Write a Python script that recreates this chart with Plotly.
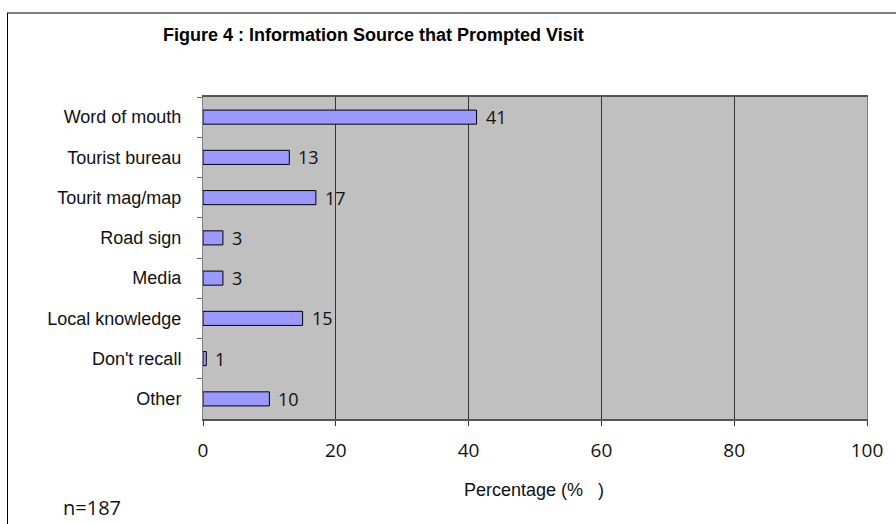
import plotly.graph_objects as go

categories = ["Word of mouth", "Tourist bureau", "Tourit mag/map", "Road sign",
              "Media", "Local knowledge", "Don't recall", "Other"]
values = [41.2, 13, 17, 3, 3, 15, 0.5, 10]
value_labels = ["41", "13", "17", "3", "3", "15", "1", "10"]
x_ticks = [0, 20, 40, 60, 80, 100]
title_text = "Figure 4 : Information Source that Prompted Visit"
x_title = "Percentage (%\u00a0\u00a0\u00a0)"
note_text = "n=187"

W, H = 896, 524
L, R, T, B = 203, 29, 97, 105
pw, ph = W - L - R, H - T - B

def px_x(px):
    return (px - L) / pw

def px_y(py):
    return (H - B - py) / ph

fig = go.Figure()
fig.add_trace(go.Bar(
    x=values, y=categories, orientation="h",
    marker=dict(color="#9999ff", line=dict(color="#000000", width=1)),
    hoverinfo="skip",
))

for v, c, lab in zip(values, categories, value_labels):
    fig.add_annotation(x=v, y=c, text=lab, showarrow=False, xanchor="left",
                       xshift=7, font=dict(family="Open Sans", size=18, color="#111"))

fig.add_annotation(x=px_x(161), y=px_y(35), xref="paper", yref="paper", text=title_text,
                   showarrow=False, xanchor="left", yanchor="middle",
                   font=dict(family="Liberation Sans", size=18, color="#000", weight="bold"))
fig.add_annotation(x=px_x(534), y=px_y(490), xref="paper", yref="paper", text=x_title,
                   showarrow=False, xanchor="center", yanchor="middle",
                   font=dict(family="Liberation Sans", size=18, color="#111"))
fig.add_annotation(x=px_x(61), y=px_y(507), xref="paper", yref="paper", text=note_text,
                   showarrow=False, xanchor="left", yanchor="middle",
                   font=dict(family="Open Sans", size=20, color="#111"))

# outer frame lines
fig.add_shape(type="line", xref="paper", yref="paper", x0=px_x(7), x1=px_x(896),
              y0=px_y(13), y1=px_y(13), line=dict(color="#808080", width=2))
fig.add_shape(type="line", xref="paper", yref="paper", x0=px_x(7.5), x1=px_x(7.5),
              y0=px_y(13), y1=px_y(524), line=dict(color="#000000", width=1))

fig.update_layout(
    width=W, height=H,
    margin=dict(l=L, r=R, t=T, b=B),
    paper_bgcolor="#ffffff", plot_bgcolor="#c0c0c0",
    bargap=0.65, showlegend=False,
    font=dict(family="Liberation Sans", color="#111"),
)
fig.update_xaxes(
    range=[0, 100], tickvals=x_ticks, ticks="outside", ticklen=5, tickcolor="#333",
    showgrid=True, gridcolor="#333333", gridwidth=1,
    showline=True, linecolor="#555555", linewidth=2, mirror=True,
    zeroline=False, tickfont=dict(family="Open Sans", size=19, color="#111"),
    ticklabelstandoff=8, fixedrange=True,
)
fig.update_yaxes(
    categoryorder="array", categoryarray=categories, autorange="reversed",
    tickson="boundaries", ticks="outside", ticklen=5, tickcolor="#666",
    showline=True, linecolor="#808080", linewidth=1, mirror=True,
    showgrid=False, tickfont=dict(family="Liberation Sans", size=18, color="#111"),
    ticklabelstandoff=17, fixedrange=True,
)

fig.write_html("out.html")
